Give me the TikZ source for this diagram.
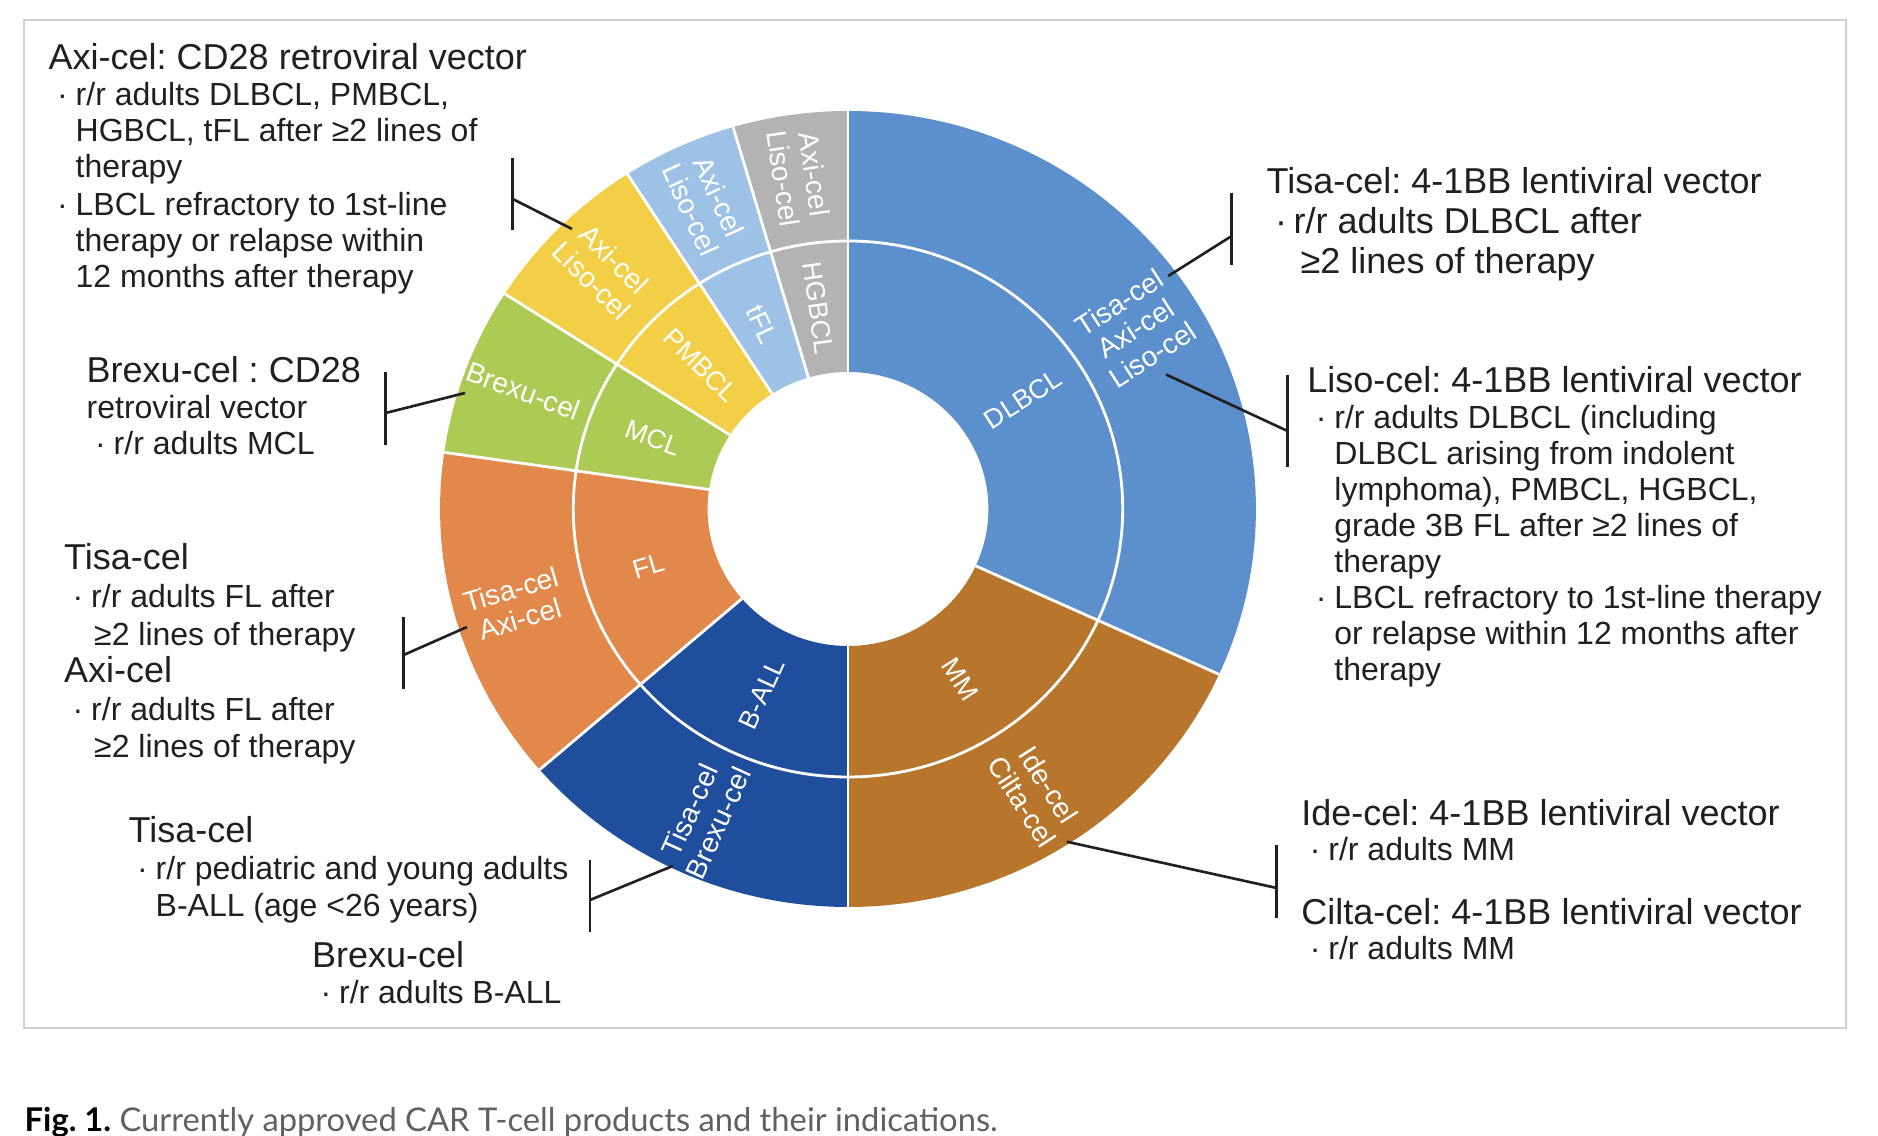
\documentclass[tikz,border=0pt]{standalone}
\usepackage{fontspec}
\setmainfont{Liberation Sans}
\newfontfamily\capfont{Lato}
\newdimen\pxu
\pxu=0.01cm
\definecolor{cDL}{HTML}{5B90CC}
\definecolor{cMM}{HTML}{B7762B}
\definecolor{cBA}{HTML}{1F4E9D}
\definecolor{cFL}{HTML}{E2884A}
\definecolor{cMC}{HTML}{ADCA55}
\definecolor{cPM}{HTML}{F3CF47}
\definecolor{cTF}{HTML}{9DC2E6}
\definecolor{cHG}{HTML}{B3B3B3}
\definecolor{ink}{HTML}{231F20}
\definecolor{framegray}{HTML}{CFCFCF}
\definecolor{capgray}{HTML}{606060}
\newcommand\fT{\fontsize{10.24pt}{10.24pt}\selectfont}
\newcommand\fB{\fontsize{9.1pt}{10.24pt}\selectfont}
\newcommand\blkset[1]{\baselineskip=#1\pxu\lineskip=0pt\lineskiplimit=-100pt\relax}
\newcommand\ttlline[1]{\hbox{\fT #1}}
\newcommand\plnline[1]{\hbox{\fB #1}}
\newcommand\bulline[2][\fB]{\hbox{#1\hskip 8.5\pxu\hbox to 18.5\pxu{·\hss}#2}}
\newcommand\contline[2][\fB]{\hbox{#1\hskip 27\pxu #2}}
\frenchspacing
\begin{document}
\frenchspacing
\begin{tikzpicture}[x=0.01cm, y=0.01cm,
  sepline/.style={draw=white, line width=0.8pt},
  lbl/.style={text=white, inner sep=0pt, align=center, font=\fontsize{7.6pt}{8.8pt}\selectfont},
  olbl/.style={text=white, inner sep=0pt, align=center, font=\fontsize{8pt}{8.8pt}\selectfont},
  conn/.style={draw=ink, line width=0.75pt},
  blk/.style={anchor=base west, inner sep=0pt, text=ink}]
\useasboundingbox (0,0) rectangle (1878,1136);
\clip (0,0) rectangle (1878,1136);
\fill[white] (0,0) rectangle (1878,1136);
\draw[draw=framegray, line width=0.6pt] (24,108) rectangle (1846,1116);

% ---------- donut ----------
\begin{scope}[shift={(848,627)}, xscale=1.025]
  \foreach \a/\b/\col in {90/106.364/cHG, 106.364/122.727/cTF, 122.727/147.273/cPM,
      147.273/171.818/cMC, 171.818/220.909/cFL, 220.909/270/cBA, 270/335.455/cMM, 335.455/450/cDL} {
    \fill[\col] (\a:137) arc[start angle=\a, end angle=\b, radius=137]
      -- (\b:398) arc[start angle=\b, end angle=\a, radius=398] -- cycle;
  }
  \draw[sepline] (0,0) circle[radius=268];
  \foreach \a in {90,106.364,122.727,147.273,171.818,220.909,270,335.455}
    \draw[sepline] (\a:137) -- (\a:398);
  % inner ring labels
  \node[lbl, rotate=-81.82] (lHG) at (98.18:203) {HGBCL};
  \node[lbl, rotate=-65.45] (lTF) at (114.55:203) {tFL};
  \node[lbl, rotate=-45] (lPM) at (135:203) {PMBCL};
  \node[lbl, rotate=-20.45] (lMC) at (159.55:203) {MCL};
  \node[lbl, rotate=16.36] (lFL) at (196.36:203) {FL};
  \node[lbl, rotate=65.45] (lBA) at (245.45:203) {B-ALL};
  \node[lbl, rotate=-57.27] (lMM) at (302.73:203) {MM};
  \node[lbl, rotate=32.73] (lDL) at (32.73:203) {DLBCL};
  % outer ring labels
  \node[olbl, rotate=-81.82] (oHG) at (98.18:336) {Axi-cel\\Liso-cel};
  \node[olbl, rotate=-65.45] (oTF) at (114.55:336) {Axi-cel\\Liso-cel};
  \node[olbl, rotate=-45] (oPM) at (135:338) {Axi-cel\\Liso-cel};
  \node[olbl, rotate=-20.45] (oMC) at (159.55:338) {Brexu-cel};
  \node[olbl, rotate=16.36] (oFL) at (196.36:338) {Tisa-cel\\Axi-cel};
  \node[olbl, rotate=65.45] (oBA) at (245.45:338) {Tisa-cel\\Brexu-cel};
  \node[olbl, rotate=-57.27] (oMM) at (302.73:338) {Ide-cel\\Cilta-cel};
  \node[olbl, rotate=32.73] (oDL) at (32.73:334) {Tisa-cel\\Axi-cel\\Liso-cel};
\end{scope}

% ---------- callout points ----------
\coordinate (pAxi) at (572,907);   \coordinate (jAxi) at (512.7,937);
\coordinate (bAxiT) at (512.7,978); \coordinate (bAxiB) at (512.7,906);
\coordinate (pTisaD) at (1168.3,860); \coordinate (jTisaD) at (1231.7,900);
\coordinate (bTisaDT) at (1231.7,943.3); \coordinate (bTisaDB) at (1231.7,871);
\coordinate (pLiso) at (1166,761.5); \coordinate (jLiso) at (1287.5,705);
\coordinate (bLisoT) at (1287.5,761); \coordinate (bLisoB) at (1287.5,669);
\coordinate (pBrexM) at (465,743); \coordinate (jBrexM) at (385.7,723);
\coordinate (bBrexMT) at (385.7,763.5); \coordinate (bBrexMB) at (385.7,690.5);
\coordinate (pFL) at (467,509); \coordinate (jFL) at (403.6,481);
\coordinate (bFLT) at (403.6,519.2); \coordinate (bFLB) at (403.6,447.3);
\coordinate (pBA) at (672.7,270); \coordinate (jBA) at (590,236);
\coordinate (bBAT) at (590,276); \coordinate (bBAB) at (590,204.3);
\coordinate (pMM) at (1066.7,294.3); \coordinate (jMM) at (1276.7,248);
\coordinate (bMMT) at (1276.7,291); \coordinate (bMMB) at (1276.7,218);

\foreach \n in {Axi,TisaD,Liso,BrexM,FL,BA,MM} {
  \draw[conn] (b\n T) -- (b\n B);
  \draw[conn] (p\n) -- (j\n);
}

% ---------- text blocks ----------
\node[blk] (tAxi) at (48,1066.5) {\vtop{\blkset{36}%
  \ttlline{Axi-cel: CD28 retroviral vector}%
  \bulline{r/r adults DLBCL, PMBCL,}%
  \contline{HGBCL, tFL after ≥2 lines of}%
  \contline{therapy}\kern2\pxu
  \bulline{LBCL refractory to 1st-line}%
  \contline{therapy or relapse within}%
  \contline{12 months after therapy}}};

\node[blk] (tBrexM) at (86,753) {\vtop{\blkset{36}%
  \ttlline{Brexu-cel : CD28}%
  \plnline{retroviral vector}%
  \bulline{r/r adults MCL}}};

\node[blk] (tFLblk) at (63.5,566) {\vtop{\blkset{37.6}%
  \ttlline{Tisa-cel}%
  \bulline{r/r adults FL after}%
  \contline{\hskip3\pxu ≥2 lines of therapy}%
  \ttlline{Axi-cel}%
  \bulline{r/r adults FL after}%
  \contline{\hskip3\pxu ≥2 lines of therapy}}};

\node[blk] (tBA1) at (128,293) {\vtop{\blkset{37}%
  \ttlline{Tisa-cel}%
  \bulline{r/r pediatric and young adults}%
  \contline{B-ALL (age <26 years)}}};

\node[blk] (tBA2) at (311.4,168) {\vtop{\blkset{36}%
  \ttlline{Brexu-cel}%
  \bulline{r/r adults B-ALL}}};

\node[blk] (tTisaD) at (1266,942) {\vtop{\blkset{40}%
  \ttlline{Tisa-cel: 4-1BB lentiviral vector}%
  \bulline[\fT]{r/r adults DLBCL after}%
  \contline[\fT]{\hskip7\pxu ≥2 lines of therapy}}};

\node[blk] (tLiso) at (1306.7,743.2) {\vtop{\blkset{36}%
  \ttlline{Liso-cel: 4-1BB lentiviral vector}%
  \bulline{r/r adults DLBCL (including}%
  \contline{DLBCL arising from indolent}%
  \contline{lymphoma), PMBCL, HGBCL,}%
  \contline{grade 3B FL after ≥2 lines of}%
  \contline{therapy}%
  \bulline{LBCL refractory to 1st-line therapy}%
  \contline{or relapse within 12 months after}%
  \contline{therapy}}};

\node[blk] (tIde) at (1300.7,310) {\vtop{\blkset{35}%
  \ttlline{Ide-cel: 4-1BB lentiviral vector}%
  \bulline{r/r adults MM}}};

\node[blk] (tCilta) at (1300.7,211.4) {\vtop{\blkset{35}%
  \ttlline{Cilta-cel: 4-1BB lentiviral vector}%
  \bulline{r/r adults MM}}};

% ---------- caption ----------
\node[anchor=base west, inner sep=0pt] (cap) at (24,4)
  {\capfont\fontsize{9.3pt}{11pt}\selectfont\textcolor{black}{\bfseries Fig. 1.}
   \textcolor{capgray}{Currently approved CAR T-cell products and their indications.}};
\end{tikzpicture}
\end{document}
